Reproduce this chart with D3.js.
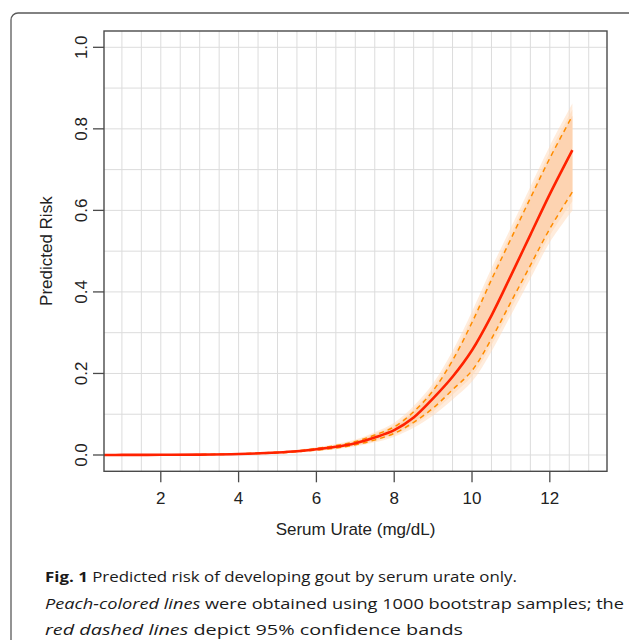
<!DOCTYPE html>
<html>
<head>
<meta charset="utf-8">
<script src="https://cdn.jsdelivr.net/npm/d3@7/dist/d3.min.js"></script>
<style>
  html, body { margin: 0; padding: 0; background: #fff; }
  svg { display: block; }
</style>
</head>
<body>
<svg id="chart" width="629" height="640"></svg>
<script>
// values (serum urate in mg/dL -> predicted risk)
const urate      = [0.5, 1, 2, 3, 4, 5, 5.5, 6, 6.5, 7, 7.5, 8, 8.5, 9, 9.5, 10, 10.5, 11, 11.5, 12, 12.58];
const risk       = [0.0001, 0.0002, 0.0005, 0.001, 0.0025, 0.006, 0.009, 0.014, 0.02, 0.029, 0.043, 0.061, 0.092, 0.139, 0.192, 0.257, 0.342, 0.44, 0.54, 0.64, 0.748];
const ciUpper    = [0.0001, 0.0002, 0.0005, 0.001, 0.003, 0.007, 0.010, 0.016, 0.023, 0.033, 0.049, 0.069, 0.106, 0.158, 0.232, 0.325, 0.43, 0.53, 0.63, 0.728, 0.832];
const ciLower    = [0.0001, 0.0002, 0.0004, 0.0008, 0.002, 0.005, 0.008, 0.012, 0.017, 0.025, 0.037, 0.053, 0.08, 0.115, 0.16, 0.207, 0.285, 0.375, 0.465, 0.555, 0.645];
const bootUpper  = [0.0002, 0.0004, 0.0008, 0.0016, 0.0045, 0.009, 0.013, 0.019, 0.027, 0.038, 0.056, 0.079, 0.12, 0.176, 0.255, 0.352, 0.458, 0.558, 0.658, 0.758, 0.862];
const bootLower  = [0, 0, 0.0002, 0.0005, 0.0015, 0.004, 0.006, 0.010, 0.014, 0.021, 0.031, 0.045, 0.067, 0.097, 0.136, 0.18, 0.254, 0.343, 0.432, 0.522, 0.6];

const xTicks = [2, 4, 6, 8, 10, 12];
const yTicks = [0, 0.2, 0.4, 0.6, 0.8, 1.0];
const xGridVals = d3.range(1, 13.01, 0.5);
const yGridVals = d3.range(0, 1.001, 0.1);

const xTitle = 'Serum Urate (mg/dL)';
const yTitle = 'Predicted Risk';
const caption = [
  [{ t: 'Fig. 1', b: true }, { t: ' Predicted risk of developing gout by serum urate only.' }],
  [{ t: 'Peach-colored lines', i: true }, { t: ' were obtained using 1000 bootstrap samples; the' }],
  [{ t: 'red dashed lines', i: true }, { t: ' depict 95% confidence bands' }],
];
const captionWidths = [472, 579, 418];

const svg = d3.select('#chart');
const box = { left: 104, right: 607, top: 31, bottom: 471.3 };

// figure frame (rounded, runs off the right / bottom of the crop)
svg.append('rect').attr('x', 11).attr('y', 13).attr('width', 660).attr('height', 700)
  .attr('rx', 7).attr('fill', 'none').attr('stroke', '#5a5a5a').attr('stroke-width', 1.3);

const x = d3.scaleLinear().domain([0.54, 13.47]).range([box.left, box.right]);
const y = d3.scaleLinear().domain([-0.04, 1.04]).range([box.bottom, box.top]);

svg.append('clipPath').attr('id', 'plotClip').append('rect')
  .attr('x', box.left).attr('y', box.top).attr('width', box.right - box.left).attr('height', box.bottom - box.top);

// grid
const grid = svg.append('g').attr('stroke', '#dcdcdc').attr('stroke-width', 1);
grid.selectAll('line.v').data(xGridVals).join('line').attr('class', 'v')
  .attr('x1', (d) => x(d)).attr('x2', (d) => x(d)).attr('y1', box.top).attr('y2', box.bottom);
grid.selectAll('line.h').data(yGridVals).join('line').attr('class', 'h')
  .attr('x1', box.left).attr('x2', box.right).attr('y1', (d) => y(d)).attr('y2', (d) => y(d));

const pts = urate.map((u, i) => ({ u, r: risk[i], cu: ciUpper[i], cl: ciLower[i], bu: bootUpper[i], bl: bootLower[i] }));
const plot = svg.append('g').attr('clip-path', 'url(#plotClip)');

// bootstrap cloud: faint outer envelope, denser core
const band = (hi, lo) => d3.area().x((d) => x(d.u)).y0((d) => y(lo(d))).y1((d) => y(hi(d))).curve(d3.curveCatmullRom);
plot.append('path').datum(pts).attr('d', band((d) => d.bu, (d) => d.bl))
  .attr('fill', '#ffdab9').attr('opacity', 0.5);
plot.append('path').datum(pts).attr('d', band((d) => (d.bu + d.cu) / 2, (d) => (d.bl + d.cl) / 2))
  .attr('fill', '#ffdab9').attr('opacity', 0.6);
plot.append('path').datum(pts).attr('d', band((d) => d.cu, (d) => d.cl))
  .attr('fill', '#fdd2ae').attr('opacity', 0.9);

const line = (acc) => d3.line().x((d) => x(d.u)).y((d) => y(acc(d))).curve(d3.curveCatmullRom);
[(d) => d.cu, (d) => d.cl].forEach((acc) => {
  plot.append('path').datum(pts).attr('d', line(acc))
    .attr('fill', 'none').attr('stroke', '#ff8c00').attr('stroke-width', 1.5).attr('stroke-dasharray', '5 4');
});
plot.append('path').datum(pts).attr('d', line((d) => d.r))
  .attr('fill', 'none').attr('stroke', '#ff2200').attr('stroke-width', 2.6);

// plot box
svg.append('rect').attr('x', box.left).attr('y', box.top)
  .attr('width', box.right - box.left).attr('height', box.bottom - box.top)
  .attr('fill', 'none').attr('stroke', '#4a4a4a').attr('stroke-width', 1.4);

const font = '"Liberation Sans", Arial, Helvetica, sans-serif';

// x axis
const xa = svg.append('g');
xa.selectAll('line').data(xTicks).join('line')
  .attr('x1', (d) => x(d)).attr('x2', (d) => x(d)).attr('y1', box.bottom).attr('y2', box.bottom + 11)
  .attr('stroke', '#4a4a4a').attr('stroke-width', 1.3);
xa.selectAll('text').data(xTicks).join('text')
  .attr('x', (d) => x(d)).attr('y', 504).attr('text-anchor', 'middle')
  .attr('font-family', font).attr('font-size', 17).attr('fill', '#222').text((d) => d);

// y axis
const ya = svg.append('g');
ya.selectAll('line').data(yTicks).join('line')
  .attr('x1', box.left - 11).attr('x2', box.left).attr('y1', (d) => y(d)).attr('y2', (d) => y(d))
  .attr('stroke', '#4a4a4a').attr('stroke-width', 1.3);
ya.selectAll('text').data(yTicks).join('text')
  .attr('transform', (d) => `translate(87,${y(d)}) rotate(-90)`).attr('text-anchor', 'middle')
  .attr('font-family', font).attr('font-size', 17).attr('fill', '#222').text((d) => d3.format('.1f')(d));

// titles
svg.append('text').attr('x', (box.left + box.right) / 2).attr('y', 535).attr('text-anchor', 'middle')
  .attr('font-family', font).attr('font-size', 17).attr('fill', '#222').text(xTitle);
svg.append('text').attr('transform', `translate(51.5,${(box.top + box.bottom) / 2}) rotate(-90)`)
  .attr('text-anchor', 'middle').attr('font-family', font).attr('font-size', 17).attr('fill', '#222').text(yTitle);

// caption
const capFont = '"Open Sans", "Noto Sans", sans-serif';
caption.forEach((parts, i) => {
  const t = svg.append('text').attr('x', 45).attr('y', 582 + i * 26.5)
    .attr('font-family', capFont).attr('font-size', 15).attr('fill', '#1a1a1a')
    .attr('textLength', captionWidths[i]).attr('lengthAdjust', 'spacingAndGlyphs');
  parts.forEach((p) => {
    t.append('tspan').attr('font-weight', p.b ? 700 : 400).attr('font-style', p.i ? 'italic' : 'normal').text(p.t);
  });
});
</script>
</body>
</html>
